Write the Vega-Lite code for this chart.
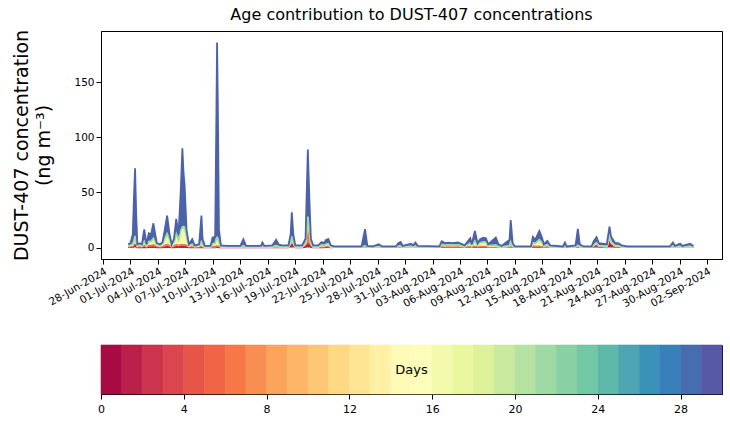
{
  "$schema": "https://vega.github.io/schema/vega-lite/v6.json",
  "background": "white",
  "padding": {"left": 12, "top": 6, "right": 8, "bottom": 5},
  "spacing": 34,
  "resolve": {"scale": {"color": "independent", "stroke": "independent", "x": "independent"}},
  "config": {
    "font": "DejaVu Sans",
    "view": {"stroke": "black", "strokeWidth": 1},
    "axis": {"grid": false, "domainColor": "black", "tickColor": "black", "labelColor": "black", "titleColor": "black", "tickSize": 5, "labelFont": "DejaVu Sans", "titleFont": "DejaVu Sans", "labelFontSize": 10, "titleFontWeight": "normal"}
  },
  "datasets": {
    "conc": [
      {"t":"2024-06-30T18:00","d01":0.3,"d06":0.5,"d16":0.7,"d21":0.3,"d28":1.2},
      {"t":"2024-07-01T00:00","d01":0.3,"d06":0.6,"d16":1,"d21":0.4,"d28":1.7},
      {"t":"2024-07-01T06:00","d01":0.5,"d06":0.8,"d16":1.2,"d21":0.8,"d28":8.7},
      {"t":"2024-07-01T09:00","d01":2,"d06":1,"d16":1.5,"d21":1.5,"d28":39},
      {"t":"2024-07-01T12:00","d01":6,"d06":1,"d16":1.5,"d21":2,"d28":61.5},
      {"t":"2024-07-01T15:00","d01":2,"d06":0.8,"d16":1.2,"d21":1.2,"d28":24.8},
      {"t":"2024-07-01T18:00","d01":0.2,"d06":0.5,"d16":0.8,"d21":0.3,"d28":1.2},
      {"t":"2024-07-02T00:00","d01":0.2,"d06":0.8,"d16":1.2,"d21":0.5,"d28":1.3},
      {"t":"2024-07-02T06:00","d01":0.2,"d06":0.5,"d16":0.8,"d21":0.3,"d28":1.2},
      {"t":"2024-07-02T12:00","d01":0.3,"d06":1.5,"d16":3,"d21":1,"d28":10.7},
      {"t":"2024-07-02T18:00","d01":0.2,"d06":0.5,"d16":0.8,"d21":0.3,"d28":1.2},
      {"t":"2024-07-03T00:00","d01":0.3,"d06":1.5,"d16":3,"d21":0.8,"d28":7.4},
      {"t":"2024-07-03T06:00","d01":0.3,"d06":1.5,"d16":3,"d21":0.8,"d28":6.4},
      {"t":"2024-07-03T12:00","d01":0.3,"d06":2,"d16":5,"d21":1,"d28":13.7},
      {"t":"2024-07-03T15:00","d01":0.3,"d06":1.5,"d16":3.5,"d21":1,"d28":9.7},
      {"t":"2024-07-03T21:00","d01":0.2,"d06":0.8,"d16":1.2,"d21":0.5,"d28":1.3},
      {"t":"2024-07-04T06:00","d01":0.2,"d06":0.5,"d16":0.8,"d21":0.3,"d28":1.2},
      {"t":"2024-07-04T12:00","d01":0.2,"d06":0.8,"d16":1.5,"d21":0.5,"d28":2},
      {"t":"2024-07-04T18:00","d01":0.3,"d06":1.5,"d16":5,"d21":1,"d28":8.7},
      {"t":"2024-07-05T00:00","d01":0.5,"d06":2,"d16":8.5,"d21":1.5,"d28":16.5},
      {"t":"2024-07-05T06:00","d01":0.3,"d06":1.5,"d16":5,"d21":0.8,"d28":5.4},
      {"t":"2024-07-05T12:00","d01":0.2,"d06":0.5,"d16":0.8,"d21":0.3,"d28":1.2},
      {"t":"2024-07-05T18:00","d01":0.2,"d06":1,"d16":3,"d21":0.5,"d28":3.3},
      {"t":"2024-07-06T00:00","d01":0.5,"d06":2,"d16":8.5,"d21":1.5,"d28":13.5},
      {"t":"2024-07-06T06:00","d01":0.3,"d06":1.5,"d16":4.5,"d21":1,"d28":4.7},
      {"t":"2024-07-06T12:00","d01":0.5,"d06":2,"d16":11,"d21":2,"d28":37.5},
      {"t":"2024-07-06T16:00","d01":0.5,"d06":2,"d16":13,"d21":3,"d28":71.5},
      {"t":"2024-07-06T19:00","d01":0.5,"d06":2,"d16":14,"d21":2.5,"d28":49},
      {"t":"2024-07-06T22:00","d01":0.5,"d06":2,"d16":14,"d21":2,"d28":37.5},
      {"t":"2024-07-07T03:00","d01":0.3,"d06":1.5,"d16":6.5,"d21":1,"d28":6.7},
      {"t":"2024-07-07T09:00","d01":0.2,"d06":0.5,"d16":0.8,"d21":0.3,"d28":1.2},
      {"t":"2024-07-07T18:00","d01":0.2,"d06":0.8,"d16":1.5,"d21":0.5,"d28":4.5},
      {"t":"2024-07-08T00:00","d01":0.2,"d06":0.3,"d16":0.5,"d21":0.2,"d28":0.8},
      {"t":"2024-07-08T12:00","d01":0.2,"d06":0.5,"d16":0.8,"d21":0.3,"d28":1.2},
      {"t":"2024-07-08T18:00","d01":0.3,"d06":1,"d16":3,"d21":1,"d28":23.7},
      {"t":"2024-07-08T21:00","d01":0.2,"d06":0.5,"d16":1,"d21":0.5,"d28":5.8},
      {"t":"2024-07-09T03:00","d01":0.2,"d06":0.1,"d16":0.2,"d21":0.2,"d28":0.8},
      {"t":"2024-07-09T18:00","d01":0.2,"d06":0.1,"d16":0.2,"d21":0.2,"d28":0.8},
      {"t":"2024-07-09T23:00","d01":0.2,"d06":0.5,"d16":2,"d21":0.5,"d28":5.8},
      {"t":"2024-07-10T06:00","d01":0.2,"d06":0.5,"d16":2.5,"d21":0.8,"d28":6},
      {"t":"2024-07-10T09:00","d01":0.3,"d06":1,"d16":5,"d21":2,"d28":104.7},
      {"t":"2024-07-10T11:00","d01":0.3,"d06":1,"d16":5,"d21":3,"d28":176.7},
      {"t":"2024-07-10T13:00","d01":0.3,"d06":1,"d16":5,"d21":2,"d28":120.7},
      {"t":"2024-07-10T16:00","d01":0.2,"d06":0.8,"d16":3,"d21":1,"d28":11},
      {"t":"2024-07-10T21:00","d01":0.2,"d06":0.2,"d16":0.3,"d21":0.3,"d28":1},
      {"t":"2024-07-11T12:00","d01":0.2,"d06":0.1,"d16":0.2,"d21":0.2,"d28":0.8},
      {"t":"2024-07-13T00:00","d01":0.2,"d06":0.1,"d16":0.2,"d21":0.2,"d28":0.8},
      {"t":"2024-07-13T08:00","d01":0.2,"d06":0.3,"d16":0.5,"d21":0.5,"d28":6},
      {"t":"2024-07-13T15:00","d01":0.2,"d06":0.1,"d16":0.2,"d21":0.2,"d28":0.8},
      {"t":"2024-07-15T06:00","d01":0.2,"d06":0.1,"d16":0.2,"d21":0.2,"d28":0.8},
      {"t":"2024-07-15T10:00","d01":0.2,"d06":0.2,"d16":0.4,"d21":0.3,"d28":3.4},
      {"t":"2024-07-15T15:00","d01":0.2,"d06":0.1,"d16":0.2,"d21":0.2,"d28":0.8},
      {"t":"2024-07-16T12:00","d01":0.2,"d06":0.1,"d16":0.3,"d21":0.3,"d28":1.1},
      {"t":"2024-07-16T22:00","d01":0.2,"d06":0.3,"d16":0.8,"d21":0.4,"d28":5.3},
      {"t":"2024-07-17T04:00","d01":0.2,"d06":0.2,"d16":0.4,"d21":0.3,"d28":1.9},
      {"t":"2024-07-17T12:00","d01":0.2,"d06":0.1,"d16":0.3,"d21":0.3,"d28":1.1},
      {"t":"2024-07-18T06:00","d01":0.2,"d06":0.1,"d16":0.3,"d21":0.3,"d28":1.1},
      {"t":"2024-07-18T12:00","d01":3,"d06":0.5,"d16":0.5,"d21":0.5,"d28":7.5},
      {"t":"2024-07-18T15:00","d01":7,"d06":1,"d16":1,"d21":1,"d28":22},
      {"t":"2024-07-18T19:00","d01":3,"d06":0.5,"d16":0.5,"d21":0.5,"d28":7.5},
      {"t":"2024-07-19T00:00","d01":0.2,"d06":0.1,"d16":0.3,"d21":0.3,"d28":1.1},
      {"t":"2024-07-19T18:00","d01":0.2,"d06":0.1,"d16":0.3,"d21":0.3,"d28":1.1},
      {"t":"2024-07-20T03:00","d01":0.5,"d06":2,"d16":1,"d21":0.3,"d28":4.2},
      {"t":"2024-07-20T09:00","d01":3,"d06":22,"d16":2,"d21":1,"d28":61},
      {"t":"2024-07-20T13:00","d01":2,"d06":12,"d16":1.5,"d21":0.8,"d28":28.7},
      {"t":"2024-07-20T17:00","d01":0.5,"d06":2,"d16":1,"d21":0.3,"d28":4.2},
      {"t":"2024-07-20T23:00","d01":0.2,"d06":0.1,"d16":0.3,"d21":0.3,"d28":1.1},
      {"t":"2024-07-21T12:00","d01":0.2,"d06":0.1,"d16":0.3,"d21":0.3,"d28":1.1},
      {"t":"2024-07-21T21:00","d01":0.3,"d06":0.5,"d16":1.2,"d21":0.5,"d28":2.5},
      {"t":"2024-07-22T03:00","d01":0.2,"d06":0.4,"d16":1,"d21":0.4,"d28":2},
      {"t":"2024-07-22T09:00","d01":0.3,"d06":0.7,"d16":1.5,"d21":0.6,"d28":3.9},
      {"t":"2024-07-22T15:00","d01":0.3,"d06":0.7,"d16":1.8,"d21":0.7,"d28":4.1},
      {"t":"2024-07-22T21:00","d01":0.2,"d06":0.1,"d16":0.3,"d21":0.3,"d28":1.1},
      {"t":"2024-07-23T06:00","d01":0.3,"d06":0,"d16":0,"d21":0,"d28":0.7},
      {"t":"2024-07-26T06:00","d01":0.3,"d06":0,"d16":0,"d21":0,"d28":0.7},
      {"t":"2024-07-26T15:00","d01":0.3,"d06":0.2,"d16":0.5,"d21":0.5,"d28":15.2},
      {"t":"2024-07-26T21:00","d01":0.3,"d06":0,"d16":0.1,"d21":0.1,"d28":1},
      {"t":"2024-07-27T12:00","d01":0.3,"d06":0,"d16":0,"d21":0,"d28":0.7},
      {"t":"2024-07-28T03:00","d01":0.3,"d06":0.1,"d16":0.2,"d21":0.2,"d28":2.2},
      {"t":"2024-07-28T12:00","d01":0.3,"d06":0,"d16":0,"d21":0,"d28":0.7},
      {"t":"2024-07-30T00:00","d01":0.3,"d06":0,"d16":0,"d21":0,"d28":0.7},
      {"t":"2024-07-30T06:00","d01":0.3,"d06":0.2,"d16":0.5,"d21":0.3,"d28":2.7},
      {"t":"2024-07-30T12:00","d01":0.3,"d06":0.2,"d16":0.6,"d21":0.3,"d28":3.6},
      {"t":"2024-07-30T18:00","d01":0.3,"d06":0,"d16":0.1,"d21":0.1,"d28":1},
      {"t":"2024-07-31T15:00","d01":0.3,"d06":0.1,"d16":0.4,"d21":0.3,"d28":2.4},
      {"t":"2024-07-31T21:00","d01":0.3,"d06":0,"d16":0.2,"d21":0.2,"d28":1.3},
      {"t":"2024-08-01T03:00","d01":0.3,"d06":0.2,"d16":0.5,"d21":0.3,"d28":3.2},
      {"t":"2024-08-01T09:00","d01":0.3,"d06":0,"d16":0.1,"d21":0.1,"d28":1},
      {"t":"2024-08-03T18:00","d01":0.3,"d06":0,"d16":0,"d21":0,"d28":0.7},
      {"t":"2024-08-04T00:00","d01":0.3,"d06":0.4,"d16":1.8,"d21":0.4,"d28":2.8},
      {"t":"2024-08-04T09:00","d01":0.3,"d06":0.3,"d16":1.2,"d21":0.3,"d28":1.9},
      {"t":"2024-08-04T17:00","d01":0.3,"d06":0.3,"d16":1.5,"d21":0.3,"d28":2.1},
      {"t":"2024-08-05T03:00","d01":0.3,"d06":0.3,"d16":1.2,"d21":0.3,"d28":1.9},
      {"t":"2024-08-05T19:00","d01":0.3,"d06":0.3,"d16":1.5,"d21":0.3,"d28":2.2},
      {"t":"2024-08-06T12:00","d01":0.3,"d06":0.1,"d16":0.4,"d21":0.2,"d28":1},
      {"t":"2024-08-07T03:00","d01":0.3,"d06":0.5,"d16":2.5,"d21":0.6,"d28":4.6},
      {"t":"2024-08-07T07:00","d01":0.3,"d06":0.2,"d16":0.9,"d21":0.3,"d28":1.3},
      {"t":"2024-08-07T15:00","d01":0.5,"d06":0.5,"d16":4,"d21":1,"d28":9},
      {"t":"2024-08-07T22:00","d01":0.3,"d06":0.3,"d16":1.2,"d21":0.3,"d28":1.9},
      {"t":"2024-08-08T05:00","d01":0.3,"d06":0.5,"d16":3,"d21":0.6,"d28":3.2},
      {"t":"2024-08-08T13:00","d01":0.3,"d06":0.5,"d16":3.5,"d21":0.8,"d28":3.9},
      {"t":"2024-08-08T20:00","d01":0.3,"d06":0.5,"d16":3.3,"d21":0.7,"d28":3.7},
      {"t":"2024-08-09T02:00","d01":0.3,"d06":0.2,"d16":0.9,"d21":0.3,"d28":1.3},
      {"t":"2024-08-09T22:00","d01":0.3,"d06":0.3,"d16":1,"d21":0.5,"d28":6.9},
      {"t":"2024-08-10T05:00","d01":0.3,"d06":0.1,"d16":0.3,"d21":0.2,"d28":2.1},
      {"t":"2024-08-10T13:00","d01":0.3,"d06":0,"d16":0.1,"d21":0.1,"d28":1},
      {"t":"2024-08-11T10:00","d01":0.5,"d06":0.2,"d16":0.5,"d21":0.3,"d28":5.5},
      {"t":"2024-08-11T13:00","d01":3,"d06":0.5,"d16":1,"d21":0.8,"d28":19.7},
      {"t":"2024-08-11T18:00","d01":0.5,"d06":0.2,"d16":0.4,"d21":0.2,"d28":2.7},
      {"t":"2024-08-12T00:00","d01":0.3,"d06":0,"d16":0,"d21":0,"d28":0.7},
      {"t":"2024-08-13T18:00","d01":0.3,"d06":0,"d16":0,"d21":0,"d28":0.7},
      {"t":"2024-08-13T23:00","d01":1,"d06":0.5,"d16":2.5,"d21":0.6,"d28":5.1},
      {"t":"2024-08-14T05:00","d01":0.5,"d06":0.4,"d16":2.3,"d21":0.5,"d28":3.3},
      {"t":"2024-08-14T16:00","d01":0.5,"d06":0.5,"d16":5,"d21":1,"d28":8},
      {"t":"2024-08-14T22:00","d01":0.3,"d06":0.4,"d16":3.5,"d21":0.8,"d28":5},
      {"t":"2024-08-15T04:00","d01":0.3,"d06":0.1,"d16":0.9,"d21":0.2,"d28":1.5},
      {"t":"2024-08-15T13:00","d01":0.3,"d06":0.3,"d16":1.8,"d21":0.4,"d28":3.2},
      {"t":"2024-08-15T20:00","d01":0.3,"d06":0.1,"d16":0.3,"d21":0.2,"d28":1.1},
      {"t":"2024-08-17T06:00","d01":0.3,"d06":0,"d16":0,"d21":0,"d28":0.7},
      {"t":"2024-08-17T11:00","d01":0.3,"d06":0.2,"d16":0.5,"d21":0.3,"d28":3.2},
      {"t":"2024-08-17T16:00","d01":0.3,"d06":0,"d16":0,"d21":0,"d28":0.7},
      {"t":"2024-08-18T15:00","d01":0.3,"d06":0.1,"d16":0.3,"d21":0.2,"d28":1.1},
      {"t":"2024-08-18T21:00","d01":0.5,"d06":0.3,"d16":0.8,"d21":0.5,"d28":14.9},
      {"t":"2024-08-19T02:00","d01":0.3,"d06":0.1,"d16":0.3,"d21":0.2,"d28":2.1},
      {"t":"2024-08-19T12:00","d01":0.3,"d06":0,"d16":0,"d21":0,"d28":0.7},
      {"t":"2024-08-20T09:00","d01":0.3,"d06":0,"d16":0,"d21":0,"d28":0.7},
      {"t":"2024-08-20T15:00","d01":1,"d06":0.5,"d16":0.5,"d21":0.3,"d28":3.7},
      {"t":"2024-08-20T22:00","d01":3,"d06":0.5,"d16":0.5,"d21":0.3,"d28":5.2},
      {"t":"2024-08-21T04:00","d01":0.8,"d06":0.3,"d16":0.3,"d21":0.2,"d28":2.4},
      {"t":"2024-08-22T01:00","d01":0.3,"d06":0.2,"d16":0.3,"d21":0.2,"d28":2},
      {"t":"2024-08-22T08:00","d01":8,"d06":1.5,"d16":0.5,"d21":0.4,"d28":8.6},
      {"t":"2024-08-22T12:00","d01":3,"d06":1,"d16":0.8,"d21":0.4,"d28":4.8},
      {"t":"2024-08-22T23:00","d01":0.3,"d06":0.3,"d16":0.9,"d21":0.3,"d28":2.2},
      {"t":"2024-08-23T07:00","d01":0.3,"d06":0.3,"d16":0.9,"d21":0.3,"d28":2.2},
      {"t":"2024-08-23T16:00","d01":0.3,"d06":0.1,"d16":0.3,"d21":0.2,"d28":1.1},
      {"t":"2024-08-24T06:00","d01":0.3,"d06":0,"d16":0,"d21":0,"d28":0.7},
      {"t":"2024-08-28T22:00","d01":0.3,"d06":0,"d16":0,"d21":0,"d28":0.7},
      {"t":"2024-08-29T06:00","d01":0.3,"d06":0.2,"d16":0.5,"d21":0.3,"d28":3.2},
      {"t":"2024-08-29T12:00","d01":0.3,"d06":0,"d16":0.1,"d21":0.1,"d28":1},
      {"t":"2024-08-30T01:00","d01":0.3,"d06":0.1,"d16":0.4,"d21":0.3,"d28":2.4},
      {"t":"2024-08-30T07:00","d01":0.3,"d06":0,"d16":0.1,"d21":0.1,"d28":1},
      {"t":"2024-08-31T03:00","d01":0.3,"d06":0.1,"d16":0.4,"d21":0.3,"d28":2.4},
      {"t":"2024-08-31T12:00","d01":0.3,"d06":0,"d16":0.1,"d21":0.1,"d28":1}
    ],
    "bar": [
      {"day":0,"next":1},{"day":1,"next":2},{"day":2,"next":3},{"day":3,"next":4},{"day":4,"next":5},
      {"day":5,"next":6},{"day":6,"next":7},{"day":7,"next":8},{"day":8,"next":9},{"day":9,"next":10},
      {"day":10,"next":11},{"day":11,"next":12},{"day":12,"next":13},{"day":13,"next":14},{"day":14,"next":15},
      {"day":15,"next":16},{"day":16,"next":17},{"day":17,"next":18},{"day":18,"next":19},{"day":19,"next":20},
      {"day":20,"next":21},{"day":21,"next":22},{"day":22,"next":23},{"day":23,"next":24},{"day":24,"next":25},
      {"day":25,"next":26},{"day":26,"next":27},{"day":27,"next":28},{"day":28,"next":29},{"day":29,"next":30}
    ],
    "label": [{"text":"Days","pos":15}]
  },
  "vconcat": [
    {
      "title": {"text": "Age contribution to DUST-407 concentrations", "fontSize": 16, "font": "DejaVu Sans", "fontWeight": "normal", "color": "black", "offset": 6},
      "width": 621,
      "height": 228,
      "data": {"name": "conc"},
      "transform": [{"fold": ["d01", "d06", "d16", "d21", "d28"], "as": ["age", "c"]}],
      "mark": {"type": "area", "interpolate": "linear", "opacity": 1, "fillOpacity": 1, "line": {"strokeWidth": 1.8}},
      "encoding": {
        "x": {
          "field": "t", "type": "temporal", "title": null,
          "scale": {"domain": [{"year": 2024, "month": 6, "date": 27, "hours": 18, "minutes": 40}, {"year": 2024, "month": 9, "date": 3, "hours": 15}]},
          "axis": {
            "format": "%d-%b-%Y", "labelAngle": -30, "labelAlign": "right", "labelBaseline": "top", "labelPadding": 2, "labelOverlap": false, "labelFlush": false, "labelFontSize": 10.5,
            "values": [
              {"year":2024,"month":6,"date":28},{"year":2024,"month":7,"date":1},{"year":2024,"month":7,"date":4},{"year":2024,"month":7,"date":7},
              {"year":2024,"month":7,"date":10},{"year":2024,"month":7,"date":13},{"year":2024,"month":7,"date":16},{"year":2024,"month":7,"date":19},
              {"year":2024,"month":7,"date":22},{"year":2024,"month":7,"date":25},{"year":2024,"month":7,"date":28},{"year":2024,"month":7,"date":31},
              {"year":2024,"month":8,"date":3},{"year":2024,"month":8,"date":6},{"year":2024,"month":8,"date":9},{"year":2024,"month":8,"date":12},
              {"year":2024,"month":8,"date":15},{"year":2024,"month":8,"date":18},{"year":2024,"month":8,"date":21},{"year":2024,"month":8,"date":24},
              {"year":2024,"month":8,"date":27},{"year":2024,"month":8,"date":30},{"year":2024,"month":9,"date":2}
            ]
          }
        },
        "y": {
          "field": "c", "type": "quantitative", "stack": "zero",
          "scale": {"domain": [-10.4, 196.5], "nice": false, "zero": false},
          "axis": {"values": [0, 50, 100, 150], "labelFontSize": 10.5, "title": ["DUST-407 concentration", "(ng m⁻³)"], "titleFontSize": 19, "titleLineHeight": 22, "titlePadding": 20}
        },
        "color": {
          "field": "age", "type": "nominal", "legend": null,
          "scale": {"domain": ["d01", "d06", "d16", "d21", "d28"], "range": ["#ba2049", "#f67848", "#f3faac", "#a0d9a4", "#4c62a9"]}
        },
        "order": {"field": "age"}
      }
    },
    {
      "width": 621,
      "height": 49,
      "resolve": {"scale": {"x": "shared"}},
      "layer": [
        {
          "data": {"name": "bar"},
          "mark": {"type": "rect", "strokeWidth": 0.6},
          "encoding": {
            "x": {"field": "day", "type": "quantitative", "title": null, "scale": {"domain": [0, 30], "nice": false, "zero": false},
                  "axis": {"values": [0, 4, 8, 12, 16, 20, 24, 28], "labelFontSize": 11, "labelPadding": 4, "labelFlush": false}},
            "x2": {"field": "next"},
            "color": {"field": "day", "type": "ordinal", "legend": null,
              "scale": {"domain": [0,1,2,3,4,5,6,7,8,9,10,11,12,13,14,15,16,17,18,19,20,21,22,23,24,25,26,27,28,29],
                "range": ["#a70b44","#ba2049","#cc344d","#da464d","#e55649","#ef6545","#f67848","#f98e52","#fca35c","#fdb668","#fec776","#fed884","#fee594","#fff0a5","#fffab6","#fbfdb9","#f3faac","#eaf79f","#dcf19a","#c9e99e","#b5e1a2","#a0d9a4","#89d0a5","#72c7a5","#5db8a9","#4ca5b1","#3b92b9","#397fb9","#486cb0","#5759a7"]}},
            "stroke": {"field": "day", "type": "ordinal", "legend": null,
              "scale": {"domain": [0,1,2,3,4,5,6,7,8,9,10,11,12,13,14,15,16,17,18,19,20,21,22,23,24,25,26,27,28,29],
                "range": ["#a70b44","#ba2049","#cc344d","#da464d","#e55649","#ef6545","#f67848","#f98e52","#fca35c","#fdb668","#fec776","#fed884","#fee594","#fff0a5","#fffab6","#fbfdb9","#f3faac","#eaf79f","#dcf19a","#c9e99e","#b5e1a2","#a0d9a4","#89d0a5","#72c7a5","#5db8a9","#4ca5b1","#3b92b9","#397fb9","#486cb0","#5759a7"]}}
          }
        },
        {
          "data": {"name": "label"},
          "mark": {"type": "text", "fontSize": 13, "font": "DejaVu Sans", "color": "black"},
          "encoding": {
            "x": {"field": "pos", "type": "quantitative"},
            "text": {"field": "text"}
          }
        }
      ]
    }
  ]
}
